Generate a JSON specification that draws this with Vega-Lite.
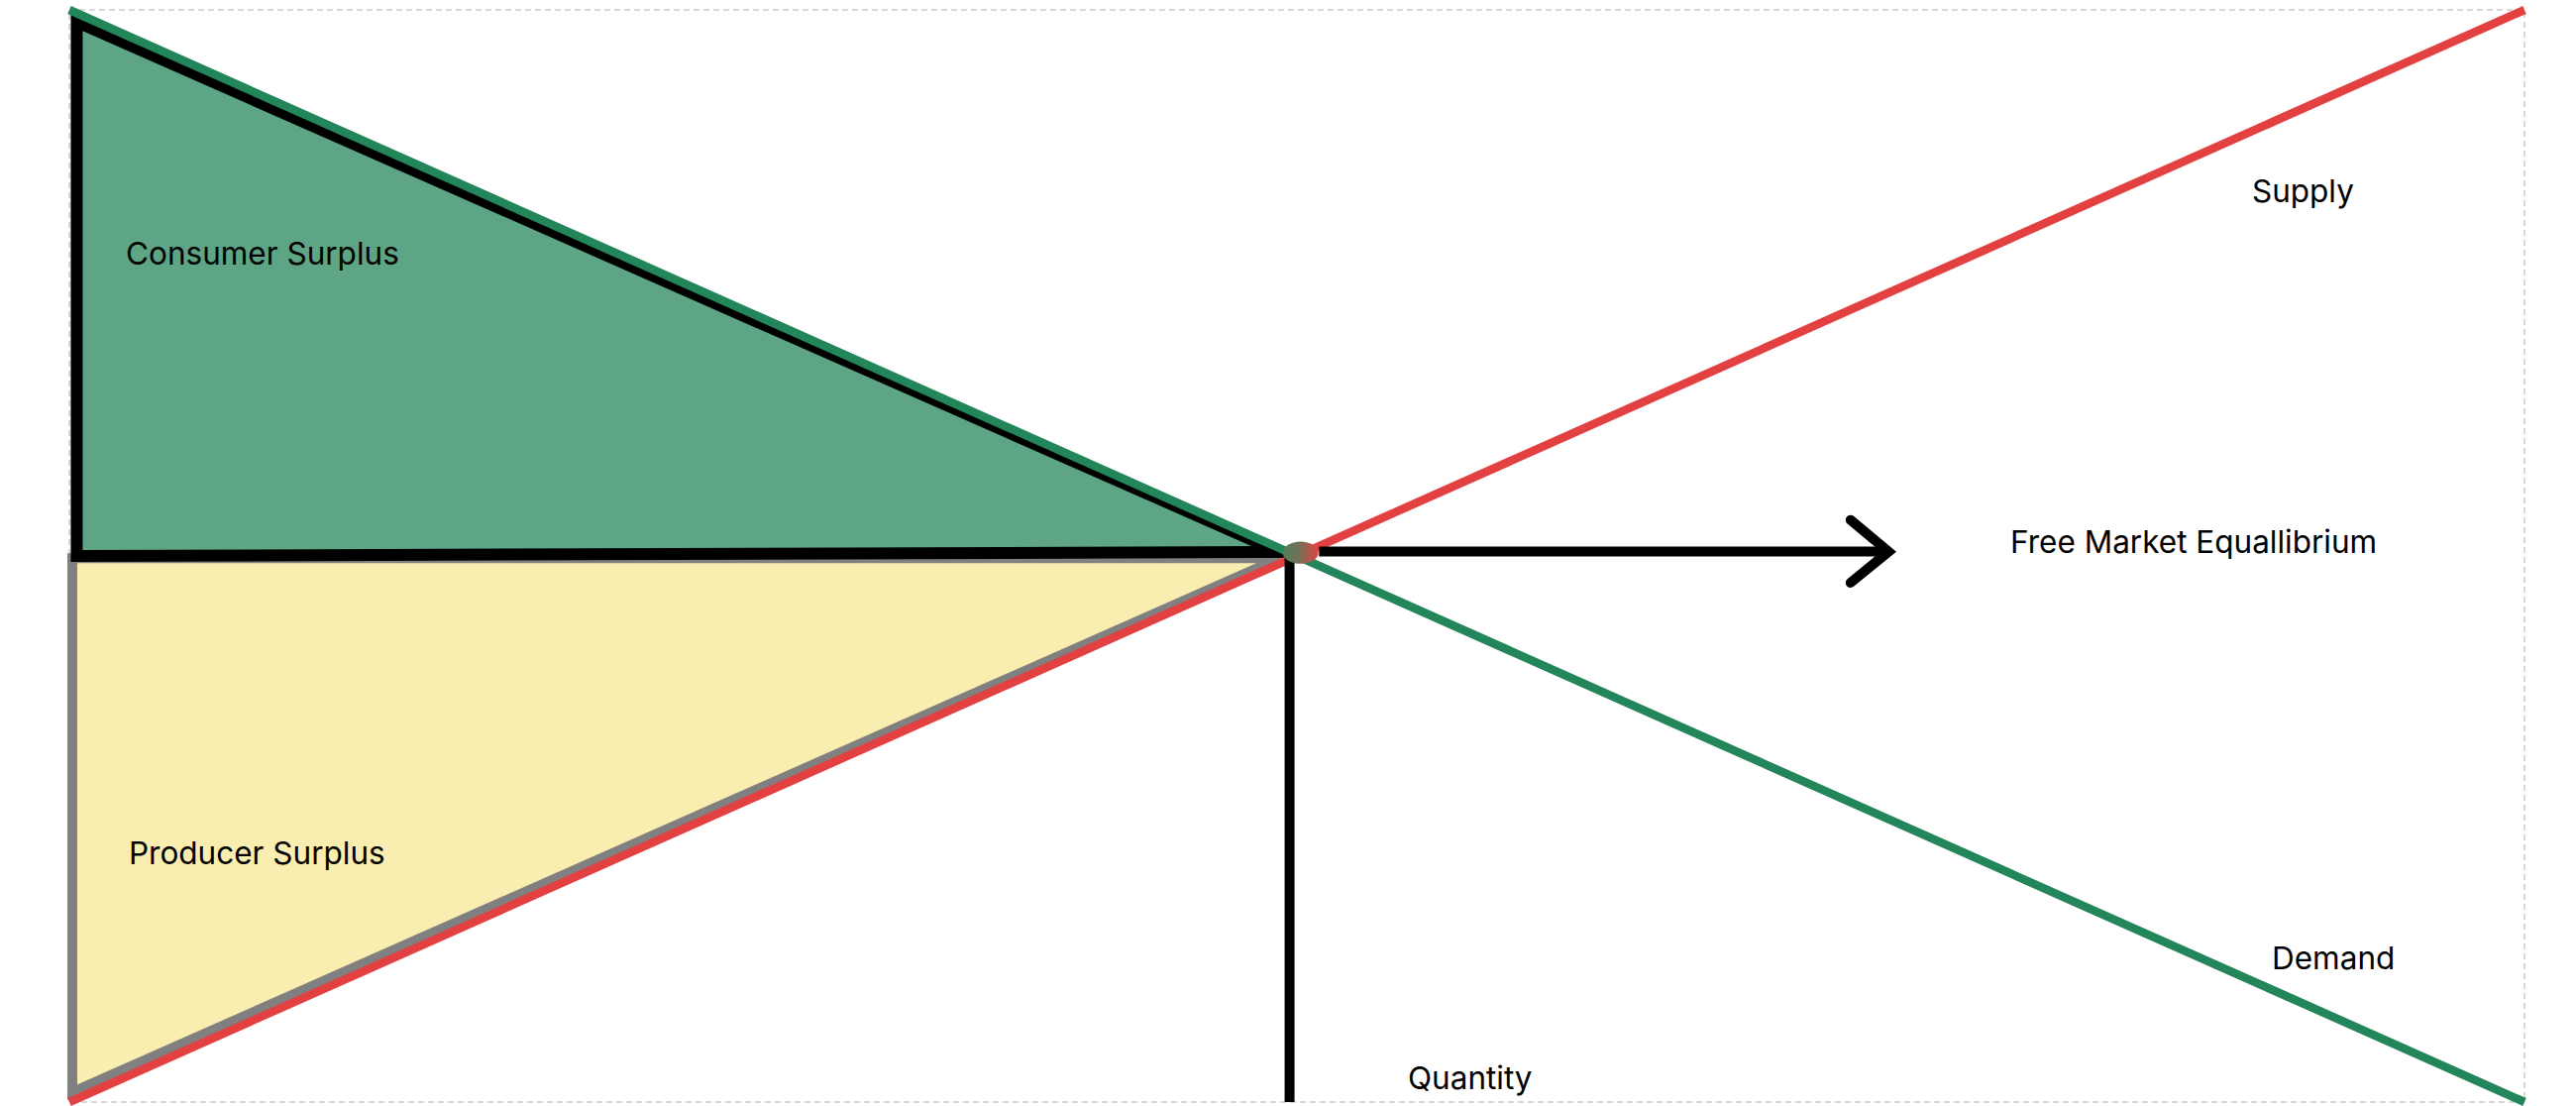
{
  "$schema": "https://vega.github.io/schema/vega-lite/v6.json",
  "width": 2478,
  "height": 1102,
  "autosize": "none",
  "padding": {"left": 70, "top": 10, "right": 52, "bottom": 4},
  "background": "white",
  "config": {
    "view": {"stroke": "#cccccc", "strokeDash": [6, 4], "strokeWidth": 1.5},
    "text": {"font": "Inter", "fontSize": 31.5, "color": "#000000"}
  },
  "encoding": {
    "x": {"field": "x", "type": "quantitative", "axis": null, "scale": {"domain": [0, 100], "nice": false, "zero": false}},
    "y": {"field": "y", "type": "quantitative", "axis": null, "scale": {"domain": [0, 100], "nice": false, "zero": false}}
  },
  "layer": [
    {
      "data": {"values": [
        {"x": 0.12, "y": 49.8, "y2": 0.9},
        {"x": 49.3, "y": 49.8, "y2": 49.8}
      ]},
      "mark": {"type": "area", "fill": "#F9EEB0", "stroke": "#808080", "strokeWidth": 10, "strokeJoin": "miter", "strokeMiterLimit": 4, "fillOpacity": 1},
      "encoding": {"y2": {"field": "y2"}}
    },
    {
      "data": {"values": [
        {"x": 0.3, "y": 98.9, "y2": 50.0},
        {"x": 49.3, "y": 50.36, "y2": 50.36}
      ]},
      "mark": {"type": "area", "fill": "#5DA585", "stroke": "#000000", "strokeWidth": 12, "strokeJoin": "miter", "strokeMiterLimit": 6, "fillOpacity": 1},
      "encoding": {"y2": {"field": "y2"}}
    },
    {
      "data": {"values": [
        {"x": 0, "y": 0, "series": "Supply"},
        {"x": 100, "y": 100, "series": "Supply"}
      ]},
      "mark": {"type": "line", "color": "#E34141", "strokeWidth": 8.5}
    },
    {
      "data": {"values": [
        {"x": 0, "y": 100, "series": "Demand"},
        {"x": 100, "y": 0, "series": "Demand"}
      ]},
      "mark": {"type": "line", "color": "#23855A", "strokeWidth": 8.5}
    },
    {
      "data": {"values": [
        {"x": 49.7, "y": 50.0, "y2": 0}
      ]},
      "mark": {"type": "rule", "color": "#000000", "strokeWidth": 10},
      "encoding": {"y2": {"field": "y2"}}
    },
    {
      "data": {"values": [
        {"x": 50.9, "y": 50.4, "x2": 74.0}
      ]},
      "mark": {"type": "rule", "color": "#000000", "strokeWidth": 10},
      "encoding": {"x2": {"field": "x2"}}
    },
    {
      "data": {"values": [
        {"x": 72.55, "y": 53.3, "o": 1},
        {"x": 74.1, "y": 50.4, "o": 2},
        {"x": 72.55, "y": 47.55, "o": 3}
      ]},
      "mark": {"type": "line", "color": "#000000", "strokeWidth": 10, "strokeCap": "round", "strokeJoin": "miter"},
      "encoding": {"order": {"field": "o", "type": "quantitative"}}
    },
    {
      "data": {"values": [
        {"x": 50.15, "y": 50.3}
      ]},
      "mark": {
        "type": "point",
        "filled": true,
        "opacity": 1,
        "size": 1300,
        "shape": "M-1,0 A1,0.62 0 1,1 1,0 A1,0.62 0 1,1 -1,0 Z",
        "fill": {"gradient": "linear", "x1": 0, "y1": 0, "x2": 1, "y2": 0, "stops": [
          {"offset": 0, "color": "#557C5A"},
          {"offset": 0.4, "color": "#6A7358"},
          {"offset": 1, "color": "#E34444"}
        ]}
      }
    },
    {
      "data": {"values": [
        {"x": 2.3, "y": 76.68, "label": "Consumer Surplus"},
        {"x": 2.42, "y": 21.78, "label": "Producer Surplus"},
        {"x": 88.9, "y": 82.4, "label": "Supply"},
        {"x": 89.71, "y": 12.16, "label": "Demand"},
        {"x": 79.06, "y": 50.27, "label": "Free Market Equallibrium"},
        {"x": 54.52, "y": 1.18, "label": "Quantity"}
      ]},
      "mark": {"type": "text", "align": "left", "baseline": "alphabetic"},
      "encoding": {"text": {"field": "label", "type": "nominal"}}
    }
  ]
}
